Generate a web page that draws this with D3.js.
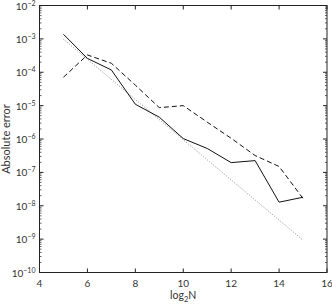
<!DOCTYPE html>
<html>
<head>
<meta charset="utf-8">
<script src="https://cdn.jsdelivr.net/npm/d3@7"></script>
<style>
  body { margin: 0; background: #fff; }
  svg { display: block; }
</style>
</head>
<body>
<svg id="chart"></svg>
<script>
// values
const log2N = [5, 6, 7, 8, 9, 10, 11, 12, 13, 14, 15];
const solidErr = [1.37e-3, 2.6e-4, 1.17e-4, 1.1e-5, 4.5e-6, 1.03e-6, 5.2e-7, 1.96e-7, 2.25e-7, 1.28e-8, 1.8e-8];
const dashedErr = [7.1e-5, 3.3e-4, 1.86e-4, 4.1e-5, 8.7e-6, 1.0e-5, 3.2e-6, 1.05e-6, 3.2e-7, 1.5e-7, 1.65e-8];
// dotted reference slope, end points only
const refN = [5, 15];
const refErr = [9.77e-4, 9.31e-10];

const xTicks = [4, 6, 8, 10, 12, 14, 16];
const yExponents = [-2, -3, -4, -5, -6, -7, -8, -9, -10];

const width = 332, height = 306;
const margin = { top: 5.5, right: 5, bottom: 33.5, left: 39.5 };

const svg = d3.select("#chart")
    .attr("width", width)
    .attr("height", height)
    .style("font-family", "Lato, sans-serif");

const x = d3.scaleLinear()
    .domain([4, 16])
    .range([margin.left, width - margin.right]);

const y = d3.scaleLog()
    .domain([1e-10, 1e-2])
    .range([height - margin.bottom, margin.top]);

const axisColor = "#222";
const textColor = "#333";

// minor ticks for the log axis
let minorTicks = [];
for (const e of yExponents.slice(1)) {
  for (let k = 2; k <= 9; k++) minorTicks.push(k * Math.pow(10, e));
}

// box
svg.append("rect")
    .attr("x", x(4))
    .attr("y", y(1e-2))
    .attr("width", x(16) - x(4))
    .attr("height", y(1e-10) - y(1e-2))
    .attr("fill", "none")
    .attr("stroke", axisColor)
    .attr("stroke-width", 1);

// x ticks, inward on bottom and top
const xt = svg.append("g").attr("class", "x-ticks");
xt.selectAll("line.b").data(xTicks).join("line")
    .attr("class", "b")
    .attr("x1", d => x(d)).attr("x2", d => x(d))
    .attr("y1", y(1e-10)).attr("y2", y(1e-10) - 4)
    .attr("stroke", axisColor);
xt.selectAll("line.t").data(xTicks).join("line")
    .attr("class", "t")
    .attr("x1", d => x(d)).attr("x2", d => x(d))
    .attr("y1", y(1e-2)).attr("y2", y(1e-2) + 4)
    .attr("stroke", axisColor);
xt.selectAll("text").data(xTicks).join("text")
    .attr("x", d => x(d))
    .attr("y", y(1e-10) + 14)
    .attr("text-anchor", "middle")
    .style("font-size", "10px")
    .attr("fill", textColor)
    .text(d => d);

// y ticks, inward on left and right
const yt = svg.append("g").attr("class", "y-ticks");
const major = yExponents.map(e => Math.pow(10, e));
for (const side of [x(4), x(16)]) {
  const dir = side === x(4) ? 1 : -1;
  yt.append("g").selectAll("line").data(major).join("line")
      .attr("x1", side).attr("x2", side + dir * 4)
      .attr("y1", d => y(d)).attr("y2", d => y(d))
      .attr("stroke", axisColor);
  yt.append("g").selectAll("line").data(minorTicks).join("line")
      .attr("x1", side).attr("x2", side + dir * 2)
      .attr("y1", d => y(d)).attr("y2", d => y(d))
      .attr("stroke", axisColor)
      .attr("stroke-width", 0.7);
}
const ylab = yt.append("g").selectAll("text").data(yExponents).join("text")
    .attr("x", x(4) - 4)
    .attr("y", d => y(Math.pow(10, d)) + 4)
    .attr("text-anchor", "end")
    .style("font-size", "10px")
    .attr("fill", textColor);
ylab.append("tspan").text("10");
ylab.append("tspan")
    .attr("dy", -4)
    .style("font-size", "7px")
    .text(d => "\u2212" + Math.abs(d));

// axis labels
svg.append("text")
    .attr("x", (x(4) + x(16)) / 2)
    .attr("y", 299)
    .attr("text-anchor", "middle")
    .style("font-size", "10.5px")
    .attr("fill", textColor)
    .call(t => {
      t.append("tspan").text("log");
      t.append("tspan").attr("dy", 3).style("font-size", "7.5px").text("2");
      t.append("tspan").attr("dy", -3).text("N");
    });

svg.append("text")
    .attr("transform", `translate(10, ${(y(1e-2) + y(1e-10)) / 2}) rotate(-90)`)
    .attr("text-anchor", "middle")
    .style("font-size", "11px")
    .attr("fill", textColor)
    .text("Absolute error");

// series
const solid = log2N.map((n, i) => ({ n, v: solidErr[i] }));
const dashed = log2N.map((n, i) => ({ n, v: dashedErr[i] }));
const ref = refN.map((n, i) => ({ n, v: refErr[i] }));

const line = d3.line()
    .x(d => x(d.n))
    .y(d => y(d.v));

svg.append("path")
    .attr("d", line(ref))
    .attr("fill", "none")
    .attr("stroke", "#777")
    .attr("stroke-width", 0.8)
    .attr("stroke-dasharray", "1,1.5");

svg.append("path")
    .attr("d", line(dashed))
    .attr("fill", "none")
    .attr("stroke", "#111")
    .attr("stroke-width", 1)
    .attr("stroke-dasharray", "5,3");

svg.append("path")
    .attr("d", line(solid))
    .attr("fill", "none")
    .attr("stroke", "#111")
    .attr("stroke-width", 1);
</script>
</body>
</html>
